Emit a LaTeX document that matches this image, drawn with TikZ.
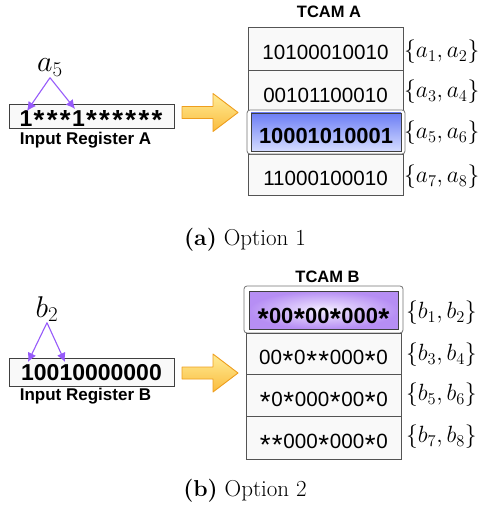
\RequirePackage{fix-cm}
\documentclass[tikz,border=0pt]{standalone}
\usepackage{fontspec}
\usepackage{graphicx}
\newfontfamily\hv{Liberation Sans}
\usetikzlibrary{arrows.meta}
\definecolor{rowfill}{rgb}{0.975,0.975,0.975}
\definecolor{rowline}{rgb}{0.33,0.33,0.33}
\definecolor{blueTop}{RGB}{108,125,245}
\definecolor{blueBot}{RGB}{212,220,255}
\definecolor{purpIn}{RGB}{244,238,255}
\definecolor{purpOut}{RGB}{182,142,244}
\definecolor{pointer}{RGB}{150,90,250}
\definecolor{arrTop}{RGB}{255,236,150}
\definecolor{arrBot}{RGB}{250,188,62}
\definecolor{arrLine}{RGB}{238,158,30}
% regular asterisk (TCAM rows), bold asterisk (highlighted row), register asterisk
\newcommand\tst{\makebox[0.59em]{\raisebox{-0.25em}{\scalebox{1.35}{*}}}}
\newcommand\tsb{\makebox[0.54em]{\raisebox{-0.215em}{\scalebox{1.3}{*}}}}
\newcommand\rch[1]{\makebox[13.1pt]{#1}}
\newcommand\rst{\rch{\raisebox{-0.143em}{\scalebox{1.2}{*}}}}
\begin{document}
\begin{tikzpicture}[x=1pt,y=-1pt,
  rowbox/.style={draw=rowline, fill=rowfill, line width=0.8pt, minimum width=155pt,
    inner sep=0pt, text height=22.7pt, text depth=0pt,
    font=\hv\fontsize{20.6}{24}\selectfont},
  hlframe/.style={draw=black!55, fill=white, line width=0.8pt, rounded corners=3pt, inner sep=0pt},
  hltext/.style={draw=black!75, line width=0.7pt, inner sep=0pt, text height=23.7pt, text depth=0pt,
    font=\hv\bfseries\fontsize{21.9}{24}\selectfont},
  regbox/.style={draw=black!75, fill=rowfill, line width=0.8pt, minimum width=165pt, inner sep=0pt,
    text depth=0pt, font=\hv\bfseries\fontsize{23}{26}\selectfont},
  reglabel/.style={anchor=base, inner sep=0pt, font=\hv\bfseries\fontsize{17}{20}\selectfont},
  title/.style={anchor=base, inner sep=0pt, font=\hv\bfseries\fontsize{16.5}{20}\selectfont},
  setlabel/.style={anchor=west, inner sep=0pt, font=\fontsize{23.5}{28}\selectfont},
  bitlabel/.style={anchor=base, inner sep=1pt, font=\fontsize{30}{34}\selectfont},
  caption/.style={anchor=base, inner sep=0pt, font=\fontsize{23}{27}\selectfont},
  pointerarrow/.style={draw=pointer, line width=1.1pt, -{Latex[length=9pt,width=9pt]}},
  bigarrow/.style={top color=arrTop, bottom color=arrBot, draw=arrLine, line width=0.9pt, line join=round}
]
\useasboundingbox (0,0) rectangle (487,513);

% ---------------- Option 1 ----------------
\node[title] (tA) at (329,18) {TCAM A};
\node[rowbox, minimum height=43pt] (a1) at (325.5,48.5) {10100010010};
\node[rowbox, minimum height=42pt] (a2) at (325.5,91) {00101100010};
\node[rowbox, minimum height=41pt] (a4) at (325.5,174.5) {11000100010};
\node[hlframe, minimum width=158pt, minimum height=44pt] (a3f) at (326,132) {};
\node[hltext, top color=blueTop, bottom color=blueBot, minimum width=150pt, minimum height=38pt] (a3) at (326,132) {10001010001};

\node[setlabel] (la1) at (404,52) {$\{a_1,a_2\}$};
\node[setlabel] (la2) at (404,92) {$\{a_3,a_4\}$};
\node[setlabel] (la3) at (404,133) {$\{a_5,a_6\}$};
\node[setlabel] (la4) at (404,177) {$\{a_7,a_8\}$};

\node[regbox, minimum height=24pt, text height=20.5pt] (regA) at (91.5,116)
  {\rch1\rst\rst\rst\rch1\rst\rst\rst\rst\rst\rst};
\node[reglabel] (regAl) at (85.5,145) {Input Register A};

\node[bitlabel] (a5) at (50,72) {$a_5$};
\coordinate (pA1) at (27,111);
\coordinate (pA2) at (75,109);
\draw[pointerarrow] (a5.south) -- (pA1);
\draw[pointerarrow] (a5.south) -- (pA2);

\path[bigarrow] (182,106.5) -- (213,106.5) -- (213,93.5) -- (238,112.5)
  -- (213,131.5) -- (213,118.5) -- (182,118.5) -- cycle;

\node[caption] (capA) at (245,245) {\textbf{(a)} Option 1};

% ---------------- Option 2 ----------------
\node[title] (tB) at (327.5,282) {TCAM B};
\node[hlframe, minimum width=159pt, minimum height=47pt] (b1f) at (323.5,309.5) {};
\node[hltext, inner color=purpIn, outer color=purpOut, minimum width=149pt, minimum height=38pt, text height=27.5pt] (b1) at (323.5,310)
  {\tsb00\tsb00\tsb000\tsb};
\node[rowbox, minimum height=41pt] (b2r) at (323.5,353.5) {00\tst0\tst\tst000\tst0};
\node[rowbox, minimum height=42pt] (b3r) at (323.5,395) {\tst0\tst000\tst00\tst0};
\node[rowbox, minimum height=43pt] (b4r) at (323.5,437.5) {\tst\tst000\tst000\tst0};

\node[setlabel] (lb1) at (406,313) {$\{b_1,b_2\}$};
\node[setlabel] (lb2) at (406,355) {$\{b_3,b_4\}$};
\node[setlabel] (lb3) at (406,395) {$\{b_5,b_6\}$};
\node[setlabel] (lb4) at (406,437) {$\{b_7,b_8\}$};

\node[regbox, minimum height=28pt, text height=16.5pt] (regB) at (91.5,372) {10010000000};
\node[reglabel] (regBl) at (85.5,400.5) {Input Register B};

\node[bitlabel] (b2) at (47,317) {$b_2$};
\coordinate (pB1) at (28,362);
\coordinate (pB2) at (65,362);
\draw[pointerarrow] (b2.south) -- (pB1);
\draw[pointerarrow] (b2.south) -- (pB2);

\path[bigarrow] (182,367) -- (213,367) -- (213,354) -- (238,373)
  -- (213,392) -- (213,379) -- (182,379) -- cycle;

\node[caption] (capB) at (245,496) {\textbf{(b)} Option 2};
\end{tikzpicture}
\end{document}
